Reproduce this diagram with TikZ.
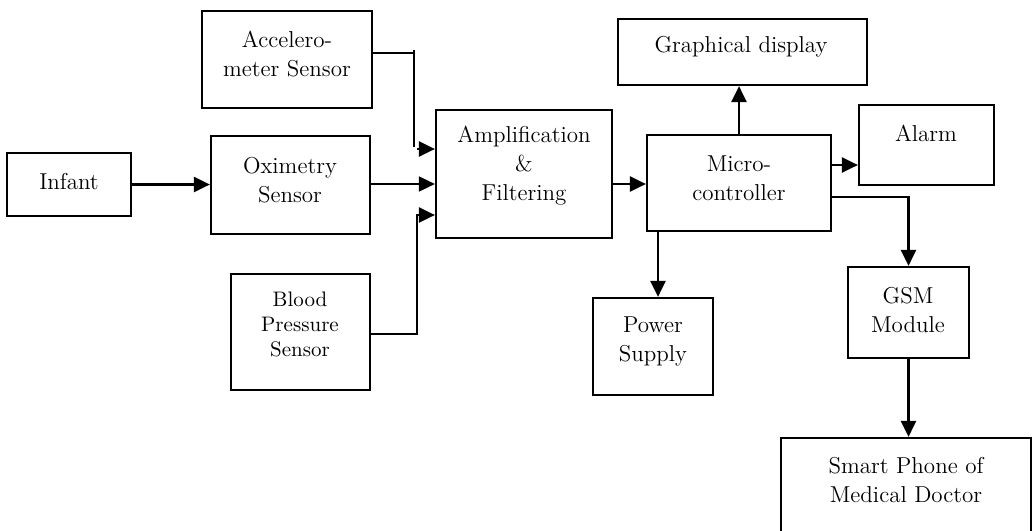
\documentclass[tikz,border=0pt]{standalone}
\usetikzlibrary{arrows.meta,calc}
\tikzset{
  box/.style={draw, line width=1.1pt, inner sep=0pt, rectangle},
  txt/.style={inner sep=0pt, align=center, font=\fontsize{11.5}{14.5}\selectfont},
  smalltxt/.style={inner sep=0pt, align=center, font=\fontsize{10.5}{12.5}\selectfont},
  arr/.style={line width=1.3pt, -{Triangle[length=8pt,width=7.5pt]}},
  ln/.style={line width=1.3pt},
}
\newcommand{\mybox}[5]{%
  \node[box, minimum width={(#4-#2)*0.5pt}, minimum height={(#5-#3)*0.5pt}] (#1) at ({(#2+#4)/2},{(#3+#5)/2}) {};}
\begin{document}
\begin{tikzpicture}[x=0.5pt,y=-0.5pt]
\fill[white] (0,0) rectangle (1033,530);
\useasboundingbox (0,0) rectangle (1033,530);
\mybox{infant}{7}{153}{131}{216}
\mybox{acc}{202}{11}{372}{108}
\mybox{oxi}{211}{136}{370}{234}
\mybox{bp}{231}{274}{370}{390}
\mybox{amp}{436}{110}{612}{238}
\mybox{mc}{647}{135}{831}{231}
\mybox{gd}{618}{19}{867}{85}
\mybox{alarm}{859}{105}{994}{185}
\mybox{ps}{593}{298}{713}{395}
\mybox{gsm}{848}{267}{969}{358}
\mybox{sp}{781}{438}{1031}{545}
\node[txt] (tinfant) at (69,182) {Infant};
\node[txt] (tacc) at (287,54) {Accelero-\\meter Sensor};
\node[txt] (toxi) at (290,180) {Oximetry\\Sensor};
\node[txt] (tamp) at (524,166) {Amplification\\\&\\Filtering};
\node[smalltxt] (tbp) at (300,324) {Blood\\Pressure\\Sensor};
\node[txt] (tmc) at (739,178) {Micro-\\controller};
\node[txt] (tgd) at (741,47) {Graphical display};
\node[txt] (talarm) at (926,133) {Alarm};
\node[txt] (tps) at (653,341) {Power\\Supply};
\node[txt] (tgsm) at (908,310) {GSM\\Module};
\node[txt] (tsp) at (906,480) {Smart Phone of\\Medical Doctor};
% connectors
\draw[arr] (infant.east) -- (infant.east -| oxi.west);
\coordinate (a0) at (414,50);
\coordinate (a1) at (414,53);
\coordinate (a2) at (414,147);
\coordinate (a3) at (417,149);
\draw[ln] (acc.east |- a1) -- (a1);
\draw[ln] (a0) -- (a2);
\draw[arr] (a3) -- (a3 -| amp.west);
\coordinate (o1) at (370,184);
\draw[arr, line width=0.9pt] (o1) -- (o1 -| amp.west);
\coordinate (b1) at (417,334);
\coordinate (b2) at (417,215);
\draw[arr] (bp.east |- b1) -- (b1) -- (b2) -- (b2 -| amp.west);
\coordinate (m1) at (612,184);
\draw[arr] (m1) -- (m1 -| mc.west);
\draw[arr] (mc.north) -- (mc.north |- gd.south);
\coordinate (m2) at (831,165);
\draw[arr] (m2) -- (m2 -| alarm.west);
\coordinate (m3) at (831,197);
\draw[arr] (m3) -| (gsm.north);
\coordinate (p1) at (658,231);
\draw[arr] (p1) -- (p1 |- ps.north);
\draw[arr] (gsm.south) -- (gsm.south |- sp.north);
\end{tikzpicture}
\end{document}
